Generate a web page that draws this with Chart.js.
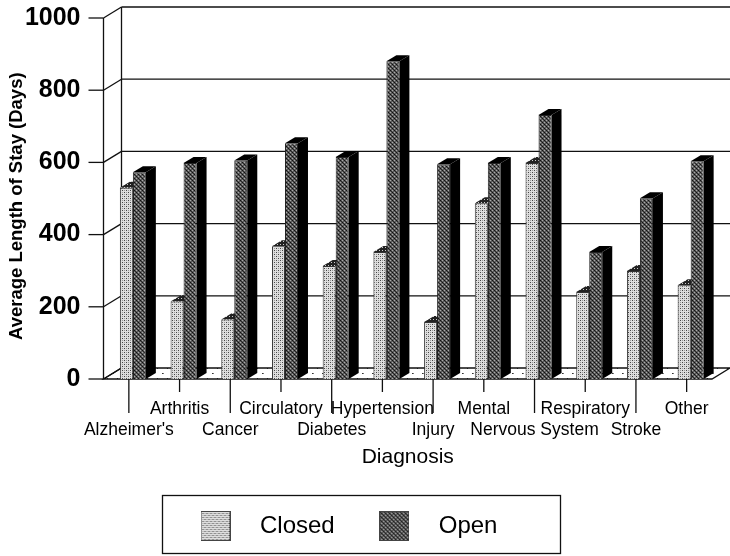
<!DOCTYPE html>
<html>
<head>
<meta charset="utf-8">
<style>
  html, body { margin: 0; padding: 0; background: #fff; }
  #wrap { width: 730px; height: 556px; }
</style>
</head>
<body>
<div id="wrap"><canvas id="grafico" width="730" height="556"></canvas></div>
<script src="https://cdn.jsdelivr.net/npm/chart.js@4/dist/chart.umd.min.js"></script>
<script>
// Datos
const categories = ["Alzheimer's", 'Arthritis', 'Cancer', 'Circulatory', 'Diabetes', 'Hypertension',
                    'Injury', 'Mental', 'Nervous System', 'Respiratory', 'Stroke', 'Other'];
const closedValues = [530, 215, 165, 368, 313, 352, 158, 487, 598, 241, 299, 260];
const openValues = [573, 598, 605, 653, 615, 880, 595, 598, 731, 352, 501, 603];
const yTicks = [0, 200, 400, 600, 800, 1000];

// Profundidad del efecto 3D
const depthX = 18, depthY = 11;
const barDepthX = 10, barDepthY = 6;
const barShift = 4;

// Trama de puntos como en el grafico impreso
function tile(size, base, dots) {
    let c = document.createElement('canvas');
    c.width = c.height = size;
    let g = c.getContext('2d');
    g.fillStyle = base;
    g.fillRect(0, 0, size, size);
    dots.forEach(function(d) {
        g.fillStyle = d[2];
        g.fillRect(d[0], d[1], 1, 1);
    });
    return c;
}

const ctx = document.getElementById('grafico').getContext('2d');
const closedTile = tile(4, '#dedede', [[0, 0, '#444'], [2, 2, '#444'], [2, 0, '#999'], [0, 2, '#999']]);
const openTile = tile(4, '#5c5c5c', [[0, 0, '#111'], [2, 2, '#111'], [2, 0, '#aaa'], [0, 2, '#aaa'], [1, 1, '#2a2a2a'], [3, 3, '#2a2a2a']]);
const closedTop = tile(3, '#222', [[1, 1, '#ccc']]);
const floorTile = tile(10, '#fff', [[2, 3, '#333'], [7, 8, '#333'], [3, 3, '#777']]);

function swatch(pattern) {
    let c = document.createElement('canvas');
    c.width = c.height = 30;
    let g = c.getContext('2d');
    g.fillStyle = g.createPattern(pattern, 'repeat');
    g.fillRect(0, 0, 30, 30);
    g.strokeStyle = '#444';
    g.strokeRect(0.5, 0.5, 29, 29);
    return c;
}
const swatches = [swatch(closedTile), swatch(openTile)];

function line(g, x1, y1, x2, y2) {
    g.beginPath();
    g.moveTo(x1, y1);
    g.lineTo(x2, y2);
    g.stroke();
}

const plot3d = {
    id: 'plot3d',
    afterDatasetsUpdate(chart) {
        // Las barras van un poco a la derecha de la marca
        chart.data.datasets.forEach(function(ds, i) {
            chart.getDatasetMeta(i).data.forEach(function(bar) { bar.x += barShift; });
        });
    },
    afterLayout(chart) {
        let lg = chart.legend;
        lg.left = 156;
        lg.right = 560;
        lg.top = 487;
        lg.bottom = 553;
    },
    beforeDatasetsDraw(chart) {
        const g = chart.ctx;
        const a = chart.chartArea;
        const y = chart.scales.y;
        const x = chart.scales.x;
        g.save();

        // Suelo
        g.fillStyle = g.createPattern(floorTile, 'repeat');
        g.beginPath();
        g.moveTo(a.left, a.bottom);
        g.lineTo(a.right, a.bottom);
        g.lineTo(a.right + depthX, a.bottom - depthY);
        g.lineTo(a.left + depthX, a.bottom - depthY);
        g.closePath();
        g.fill();
        g.strokeStyle = '#111';
        g.lineWidth = 1.3;
        g.stroke();

        // Paredes y lineas de la grilla
        line(g, a.left, a.top, a.left, a.bottom);
        line(g, a.left + depthX, y.getPixelForValue(1000) - depthY, a.left + depthX, a.bottom - depthY);
        yTicks.forEach(function(v) {
            let py = y.getPixelForValue(v);
            line(g, a.left - 15, py, a.left, py);
            line(g, a.left, py, a.left + depthX, py - depthY);
            if (v > 0) line(g, a.left + depthX, py - depthY, a.right + depthX, py - depthY);
        });

        // Marcas del eje x, largas y cortas
        categories.forEach(function(c, i) {
            let px = x.getPixelForTick(i);
            line(g, px, a.bottom, px, a.bottom + (i % 2 === 0 ? 34 : 13));
        });

        // Tapa y lado de cada barra
        chart.data.datasets.forEach(function(ds, i) {
            chart.getDatasetMeta(i).data.forEach(function(bar) {
                let r = bar.x + bar.width / 2;
                let l = bar.x - bar.width / 2;
                g.fillStyle = '#000';
                g.beginPath();
                g.moveTo(r, bar.y);
                g.lineTo(r + barDepthX, bar.y - barDepthY);
                g.lineTo(r + barDepthX, bar.base - barDepthY);
                g.lineTo(r, bar.base);
                g.closePath();
                g.fill();
                g.fillStyle = i === 0 ? g.createPattern(closedTop, 'repeat') : '#000';
                g.beginPath();
                g.moveTo(l, bar.y);
                g.lineTo(l + barDepthX, bar.y - barDepthY);
                g.lineTo(r + barDepthX, bar.y - barDepthY);
                g.lineTo(r, bar.y);
                g.closePath();
                g.fill();
            });
        });
        g.restore();
    },
    afterDraw(chart) {
        // Recuadro de la leyenda
        const g = chart.ctx;
        g.save();
        g.strokeStyle = '#111';
        g.lineWidth = 1.3;
        g.strokeRect(162.5, 495.5, 398, 58);
        g.restore();
    }
};

new Chart(ctx, {
    type: 'bar',
    data: {
        labels: categories,
        datasets: [
            { label: 'Closed', data: closedValues, backgroundColor: ctx.createPattern(closedTile, 'repeat'),
              borderColor: '#333', borderWidth: 1 },
            { label: 'Open', data: openValues, backgroundColor: ctx.createPattern(openTile, 'repeat'),
              borderColor: '#222', borderWidth: 1 }
        ]
    },
    options: {
        responsive: false,
        animation: false,
        layout: { padding: { left: 0, right: 18, top: 18, bottom: 0 } },
        datasets: { bar: { categoryPercentage: 0.513, barPercentage: 1 } },
        scales: {
            x: {
                grid: { display: false, drawTicks: false },
                border: { display: false },
                ticks: {
                    color: '#000',
                    font: { family: '"Liberation Sans", Arial', size: 17.5, lineHeight: 1.2 },
                    padding: 20,
                    maxRotation: 0,
                    autoSkip: false,
                    callback: function(value, index) {
                        let label = this.getLabelForValue(value);
                        return index % 2 === 0 ? ['', label] : [label, ''];
                    }
                },
                title: {
                    display: true,
                    text: 'Diagnosis',
                    color: '#000',
                    font: { family: '"Liberation Sans", Arial', size: 21 },
                    padding: { top: 4, bottom: 25 }
                },
                afterFit: function(scale) { scale.height = 116; }
            },
            y: {
                min: 0,
                max: 1000,
                // tickLength separa los numeros del eje (las marcas se dibujan en el plugin)
                grid: { display: false, drawTicks: true, tickLength: 23 },
                border: { display: false },
                ticks: {
                    color: '#000',
                    stepSize: 200,
                    font: { family: '"Liberation Sans", Arial', size: 25, weight: 'bold' },
                    padding: 0,
                    callback: function(value) { return String(value); }
                },
                title: {
                    display: true,
                    // los espacios bajan un poco el titulo, como en el original
                    text: 'Average Length of Stay (Days)   ',
                    color: '#000',
                    font: { family: '"Liberation Sans", Arial', size: 18.5, weight: 'bold' },
                    padding: { top: 6, bottom: 0 }
                },
                afterFit: function(scale) { scale.width = 103.5; }
            }
        },
        plugins: {
            tooltip: { enabled: false },
            legend: {
                position: 'bottom',
                align: 'start',
                labels: {
                    color: '#000',
                    font: { family: '"Liberation Sans", Arial', size: 24 },
                    usePointStyle: true,
                    pointStyleWidth: 65,
                    padding: 27,
                    generateLabels: function(chart) {
                        return chart.data.datasets.map(function(ds, i) {
                            return { text: ds.label, pointStyle: swatches[i], datasetIndex: i, fontColor: '#000', lineWidth: 0 };
                        });
                    }
                }
            }
        }
    },
    plugins: [plot3d]
});
</script>
</body>
</html>
